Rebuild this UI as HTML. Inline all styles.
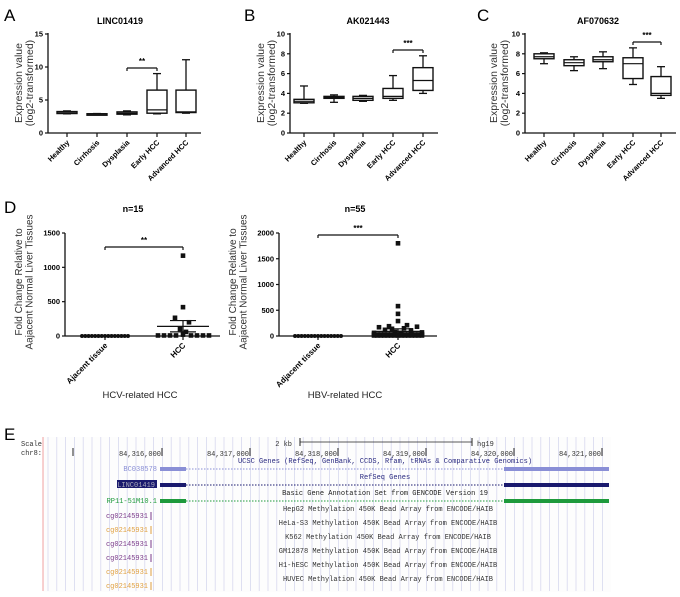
<!DOCTYPE html>
<html><head><meta charset="utf-8"><style>
body{margin:0;background:#fff}
svg{display:block}
.t{font-family:"Liberation Sans",Arial,sans-serif}
.m{font-family:"Liberation Mono",monospace;font-size:7px}
</style></head><body>
<svg id="s" width="680" height="597" viewBox="0 0 680 597" xmlns="http://www.w3.org/2000/svg"></svg>
<script>
const S=document.getElementById('s');let h='';
const add=x=>h+=x;
const L=(x1,y1,x2,y2,w=1,c='#111')=>add(`<line x1="${x1}" y1="${y1}" x2="${x2}" y2="${y2}" stroke="${c}" stroke-width="${w}"/>`);
const T=(x,y,s,o='')=>add(`<text class="t" x="${x}" y="${y}" ${o}>${s}</text>`);
T(4,21,'A','font-size="17"');T(244,21,'B','font-size="17"');T(477,21,'C','font-size="17"');
T(4,213,'D','font-size="17"');T(4,440,'E','font-size="17"');
const cats=['Healthy','Cirrhosis','Dysplasia','Early HCC','Advanced HCC'];
function box(ax,xs,max,step,ticks,title,tx,data,br,lab){
 const y=v=>133-v*(99/max);
 L(ax,33,ax,133,1.3);L(ax,133,xs[4]+15,133,1.3);
 ticks.forEach(v=>{L(ax-3,y(v),ax,y(v),1.2);T(ax-5,y(v)+2.5,v,'font-size="7.5" font-weight="bold" text-anchor="end"');});
 T(tx,24,title,'font-size="9" font-weight="bold" text-anchor="middle"');
 add(`<text class="t" font-size="10.5" fill="#333" text-anchor="middle" transform="translate(${lab},83) rotate(-90)"><tspan x="0" y="0">Expression value</tspan><tspan x="0" y="11">(log2-transformed)</tspan></text>`);
 xs.forEach((x,i)=>{L(x,133,x,137,1.2);
  T(x+3,143,cats[i],`font-size="7.5" font-weight="bold" text-anchor="end" transform="rotate(-45 ${x+3} 143)"`);
  const d=data[i];const w=10;
  L(x,y(d[0]),x,y(d[1]),1.3);L(x,y(d[3]),x,y(d[4]),1.3);
  L(x-4,y(d[0]),x+4,y(d[0]),1.3);L(x-4,y(d[4]),x+4,y(d[4]),1.3);
  add(`<rect x="${x-w}" y="${y(d[3])}" width="${2*w}" height="${Math.max(y(d[1])-y(d[3]),1.5)}" fill="#fff" stroke="#111" stroke-width="1.4"/>`);
  L(x-w,y(d[2]),x+w,y(d[2]),1.2);
 });
 const [a,b,by,st]=br;L(xs[a],by,xs[b],by,1.2);L(xs[a],by,xs[a],by+3,1.2);L(xs[b],by,xs[b],by+3,1.2);
 T((xs[a]+xs[b])/2,by-4,st,'font-size="8" font-weight="bold" text-anchor="middle"');
}
box(48,[67,97,127,157,186],15,5,[0,5,10,15],'LINC01419',120,
 [[2.9,2.95,3.05,3.25,3.35],[2.85,2.88,2.9,2.92,2.95],[2.75,2.85,3.0,3.2,3.35],[2.9,3.0,3.5,6.5,9],[3.0,3.1,3.2,6.5,11.1]],[2,3,68,'**'],22);
box(290,[304,334,363,393,423],10,2,[0,2,4,6,8,10],'AK021443',368,
 [[3.0,3.05,3.2,3.4,4.75],[3.1,3.5,3.6,3.7,3.85],[3.2,3.3,3.5,3.7,3.8],[3.3,3.5,3.7,4.5,5.8],[4.0,4.3,5.3,6.6,7.8]],[3,4,50,'***'],264);
box(525,[544,574,603,633,661],10,2,[0,2,4,6,8,10],'AF070632',598,
 [[7.0,7.5,7.7,8.0,8.1],[6.3,6.8,7.1,7.4,7.7],[6.5,7.2,7.4,7.7,8.2],[4.9,5.5,7.0,7.6,8.6],[3.5,3.8,4.0,5.7,6.7]],[3,4,42,'***'],497);
function dot(ax,max,ticks,ta,th,end,hcc,mean,sem,br,st,n,nx,lab,sub,subx,lbl){
 const y=v=>336-v*(103/max);
 L(ax,233,ax,336,1.3);L(ax,336,end,336,1.3);
 ticks.forEach(v=>{L(ax-3,y(v),ax,y(v),1.2);T(ax-5,y(v)+2.5,v,'font-size="7.5" font-weight="bold" text-anchor="end"');});
 [ta,th].forEach(x=>L(x,336,x,340,1.2));
 T(ta+3,346,lbl,`font-size="8" font-weight="bold" text-anchor="end" transform="rotate(-45 ${ta+3} 346)"`);
 T(th+3,346,'HCC',`font-size="8" font-weight="bold" text-anchor="end" transform="rotate(-45 ${th+3} 346)"`);
 for(let i=0;i<15;i++){const x=ta-23+i*46/14;add(`<circle cx="${x}" cy="336" r="2" fill="#111"/>`);}
 hcc.forEach(p=>add(`<rect x="${th+p[0]-2.3}" y="${y(p[1])-2.3}" width="4.6" height="4.6" fill="#111"/>`));
 L(th-26,y(mean),th+26,y(mean),1.2);L(th,y(sem[0]),th,y(sem[1]),1.2);
 L(th-13,y(sem[0]),th+13,y(sem[0]),1.2);L(th-13,y(sem[1]),th+13,y(sem[1]),1.2);
 L(ta,br,th,br,1.2);L(ta,br,ta,br+3,1.2);L(th,br,th,br+3,1.2);
 T((ta+th)/2,br-4,st,'font-size="8" font-weight="bold" text-anchor="middle"');
 T(nx,212,n,'font-size="9" font-weight="bold" text-anchor="middle"');
 add(`<text class="t" font-size="10" fill="#333" text-anchor="middle" transform="translate(${lab},282) rotate(-90)"><tspan x="0" y="0">Fold Change Relative to</tspan><tspan x="0" y="10.5">Aajacent Normal Liver Tissues</tspan></text>`);
 T(subx,398,sub,'font-size="9.5" fill="#222" text-anchor="middle"');
}
let h1=[[0,1170],[0,420],[-8,265],[6,200],[-3,100],[3,60],[-25,8],[-19,8],[-13,8],[-7,8],[8,8],[14,8],[20,8],[26,8],[0,20]];
dot(65,1500,[0,500,1000,1500],105,183,220,h1,140,[225,60],247,'**','n=15',133,22,'HCV-related HCC',140,'Ajacent tissue');
let h2=[[0,1800],[0,580],[0,430],[0,290],[-9,190],[9,210],[19,180],[-19,170],[-6,140],[6,150],[-13,120],[13,110],[-24,60],[24,70],[-3,80],[3,60]];
for(let i=0;i<30;i++){h2.push([-24+(i%15)*48/14,i<15?10:30]);}
dot(279,2000,[0,500,1000,1500,2000],318,398,437,h2,90,[140,50],235,'***','n=55',355,236,'HBV-related HCC',345,'Adjacent tissue');
add(`<rect x="43" y="437" width="568" height="155" fill="#fdfdfd"/>`);
for(let x=48;x<611;x+=8.8){L(x.toFixed(1),437,x.toFixed(1),591,0.8,'#d6d8ee');}
L(43,437,43,591,1,'#f0a0a0');
const M=(x,y,s,c='#333',a='start')=>add(`<text class="m" x="${x}" y="${y}" fill="${c}" text-anchor="${a}">${s}</text>`);
M(21,446,'Scale');M(21,455,'chr8:');L(73,448,73,456,1,'#222');
M(292,446,'2 kb',"#333",'end');L(300,442,472,442,0.8,'#222');L(300,438,300,446,1,'#222');L(472,438,472,446,1,'#222');M(477,446,'hg19');
['84,316,000','84,317,000','84,318,000','84,319,000','84,320,000','84,321,000'].forEach((s,i)=>{const x=162+i*88;M(x-1,456,s,'#333','end');L(x,448,x,456,1,'#222');});
M(385,463,'UCSC Genes (RefSeq, GenBank, CCDS, Rfam, tRNAs &amp; Comparative Genomics)','#2a2a80','middle');
M(385,479,'RefSeq Genes','#2a2a80','middle');
M(385,495,'Basic Gene Annotation Set from GENCODE Version 19','#222','middle');
function gene(y,c){add(`<rect x="160" y="${y-2}" width="26" height="4" fill="${c}"/><rect x="504" y="${y-2}" width="105" height="4" fill="${c}"/>`);add(`<line x1="186" y1="${y}" x2="504" y2="${y}" stroke="${c}" stroke-width="1" stroke-dasharray="1.5,1.5"/>`);}
gene(469,'#8a8fd6');gene(485,'#1a1a6e');gene(501,'#1e9a3c');
M(157,471,'BC038578','#8a8fd6','end');
add(`<rect x="117" y="480" width="40" height="8" fill="#1a1a6e"/>`);M(155,487,'LINC01419','#aab','end');
M(157,503,'RP11-51M10.1','#1e9a3c','end');
const meth=['HepG2','HeLa-S3','K562','GM12878','H1-hESC','HUVEC'];
const cc=['#7a3a8a','#e0a040','#7a3a8a','#7a3a8a','#e0a040','#e0a040'];
meth.forEach((m,i)=>{M(388,511+i*14,m+' Methylation 450K Bead Array from ENCODE/HAIB','#333','middle');M(148,518+i*14,'cg02145931',cc[i],'end');L(151,512+i*14,151,520+i*14,1,cc[i]);});
S.innerHTML=h;
</script>
</body></html>
